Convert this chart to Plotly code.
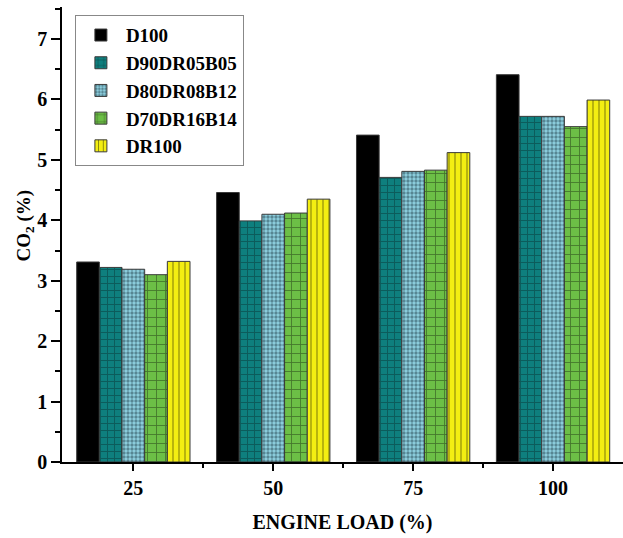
import plotly.graph_objects as go

# Engine load categories and CO2 emissions (%) for each fuel blend
loads = ["25", "50", "75", "100"]
d100 = [3.31, 4.46, 5.41, 6.41]
d90dr05b05 = [3.22, 3.99, 4.71, 5.72]
d80dr08b12 = [3.19, 4.10, 4.81, 5.72]
d70dr16b14 = [3.10, 4.12, 4.83, 5.55]
dr100 = [3.32, 4.35, 5.12, 5.99]

series_names = ["D100", "D90DR05B05", "D80DR08B12", "D70DR16B14", "DR100"]
series_values = [d100, d90dr05b05, d80dr08b12, d70dr16b14, dr100]

y_ticks = [0, 1, 2, 3, 4, 5, 6, 7]

styles = [
    dict(color="#000000", pattern=dict(shape="")),
    dict(color="#0e7f7e", pattern=dict(shape="+", fgcolor="#0b3534", size=7, solidity=0.25)),
    dict(color="#8fd2e2", pattern=dict(shape=".", fgcolor="#1d3a44", size=4, solidity=0.55)),
    dict(color="#6cbf46", pattern=dict(shape="+", fgcolor="#1a2a10", size=9, solidity=0.18)),
    dict(color="#f3ee12", pattern=dict(shape="|", fgcolor="#2a2a00", size=6, solidity=0.2)),
]

x_pos = list(range(len(loads)))

font_family = "Liberation Serif, Times New Roman, serif"

fig = go.Figure()
for name, vals, st in zip(series_names, series_values, styles):
    fig.add_trace(go.Bar(
        x=x_pos,
        y=vals,
        name=name,
        marker=dict(
            color=st["color"],
            pattern=dict(fillmode="overlay", **st["pattern"]) if st["pattern"]["shape"] else None,
            line=dict(color="#3a3a3a", width=1),
        ),
    ))

# Y-axis title placed as a rotated annotation left of the tick labels
fig.add_annotation(
    text="CO<sub>2</sub> (%)",
    xref="paper", yref="paper", x=0, y=0.52,
    xanchor="center", yanchor="middle", xshift=-37,
    textangle=-90, showarrow=False,
    font=dict(family=font_family, size=19, color="black", weight="bold"),
)

fig.update_layout(
    width=623,
    height=538,
    margin=dict(l=62, r=0, t=7, b=76),
    paper_bgcolor="white",
    plot_bgcolor="white",
    barmode="group",
    bargap=0.19,
    bargroupgap=0,
    font=dict(family=font_family, size=19, color="black"),
    legend=dict(
        x=0.023, y=0.982, xanchor="left", yanchor="top",
        bgcolor="white", bordercolor="#888888", borderwidth=1,
        font=dict(family=font_family, size=19, color="black", weight="bold"),
        itemwidth=40,
    ),
    xaxis=dict(
        range=[-0.51, 3.5],
        tickmode="array",
        tickvals=x_pos,
        ticktext=loads,
        ticks="outside", ticklen=7, tickwidth=1.5, tickcolor="black",
        minor=dict(tickmode="array", tickvals=[0.5, 1.5, 2.5], ticks="outside",
                   ticklen=4, tickwidth=1.5, tickcolor="black"),
        showline=True, linecolor="black", linewidth=1.5,
        showgrid=False, zeroline=False,
        tickfont=dict(family=font_family, size=20, weight="bold"),
        title=dict(text="ENGINE LOAD (%)", standoff=17,
                   font=dict(family=font_family, size=20, weight="bold")),
    ),
    yaxis=dict(
        range=[0, 7.53],
        tickmode="array",
        tickvals=y_ticks,
        ticks="outside", ticklen=9, tickwidth=1.5, tickcolor="black",
        minor=dict(tickmode="array", tickvals=[0.5, 1.5, 2.5, 3.5, 4.5, 5.5, 6.5, 7.5],
                   ticks="outside", ticklen=5, tickwidth=1.5, tickcolor="black"),
        showline=True, linecolor="black", linewidth=1.5,
        showgrid=False, zeroline=False,
        tickfont=dict(family=font_family, size=20, weight="bold"),
    ),
)

fig.write_html("out.html")
